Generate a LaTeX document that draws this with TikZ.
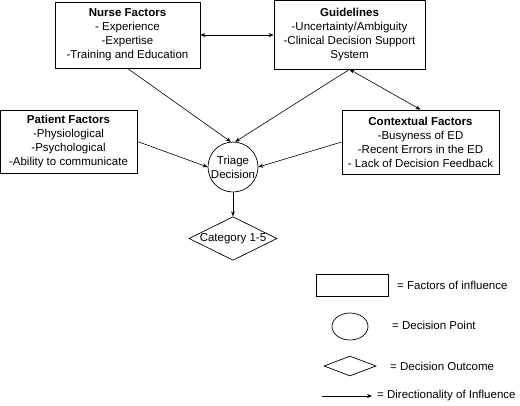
\documentclass[tikz,border=0pt]{standalone}
\usepackage{fontspec}
\setmainfont{Liberation Sans}
\usetikzlibrary{shapes.geometric,arrows.meta}
\begin{document}
\begin{tikzpicture}[x=1pt,y=-1pt,
  every node/.style={font=\fontsize{11.5}{14}\selectfont, inner sep=0pt},
  factor/.style={draw, line width=0.8pt, rectangle, align=center},
  point/.style={draw, line width=0.7pt, circle, minimum size=50pt, align=center},
  outcome/.style={draw, line width=0.7pt, diamond, minimum width=88pt, minimum height=43pt, aspect=2},
  infl/.style={line width=0.6pt, -{Stealth[length=5pt,width=4pt]}},
  both/.style={line width=0.6pt, {Stealth[length=5pt,width=4pt]}-{Stealth[length=5pt,width=4pt]}},
  lbl/.style={anchor=west}
]
\useasboundingbox (0,0) rectangle (520,405);
\node[factor, minimum width=145pt, minimum height=66pt] (nurse) at (127.5,35)
  {\textbf{Nurse Factors}\\- Experience\\-Expertise\\-Training and Education};
\node[factor, minimum width=151pt, minimum height=69pt] (gui) at (349.5,34.5)
  {\textbf{Guidelines}\\-Uncertainty/Ambiguity\\-Clinical Decision Support\\System};
\node[factor, minimum width=137pt, minimum height=63pt] (pat) at (68.5,141.5)
  {\textbf{Patient Factors}\\-Physiological\\-Psychological\\-Ability to communicate};
\node[factor, minimum width=157pt, minimum height=64pt] (ctx) at (420.5,142)
  {\textbf{Contextual Factors}\\-Busyness of ED\\-Recent Errors in the ED\\- Lack of Decision Feedback};
\node[point] (tri) at (233,167) {Triage\\Decision};
\node[outcome] (cat) at (233,238.5) {Category 1-5};

\draw[both] (nurse.east) -- (gui.west |- nurse.east);
\draw[both] (gui.south) -- (ctx.north);
\draw[infl] (nurse.south) -- (tri.95);
\draw[infl] (gui.south) -- (tri.85);
\draw[infl] (pat.east) -- (tri.west);
\draw[infl] (ctx.west) -- (tri.east);
\draw[infl] (tri.south) -- (cat.north);

% legend
\node[draw, line width=0.7pt, rectangle, minimum width=72pt, minimum height=22pt] (lrect) at (352,285) {};
\node[lbl] (lrectt) at (397,285) {= Factors of influence};
\node[draw, line width=0.7pt, ellipse, minimum width=36pt, minimum height=27pt] (lcirc) at (350,326.5) {};
\node[lbl] (lcirct) at (392,325) {= Decision Point};
\node[draw, line width=0.7pt, diamond, minimum width=52pt, minimum height=20pt, aspect=2.6] (ldia) at (350,366) {};
\node[lbl] (ldiat) at (390,366) {= Decision Outcome};
\coordinate (la) at (322,396);
\coordinate (lb) at (372,396);
\draw[infl] (la) -- (lb);
\node[lbl] (larrt) at (377,396) {= Directionality of Influence};
\end{tikzpicture}
\end{document}
